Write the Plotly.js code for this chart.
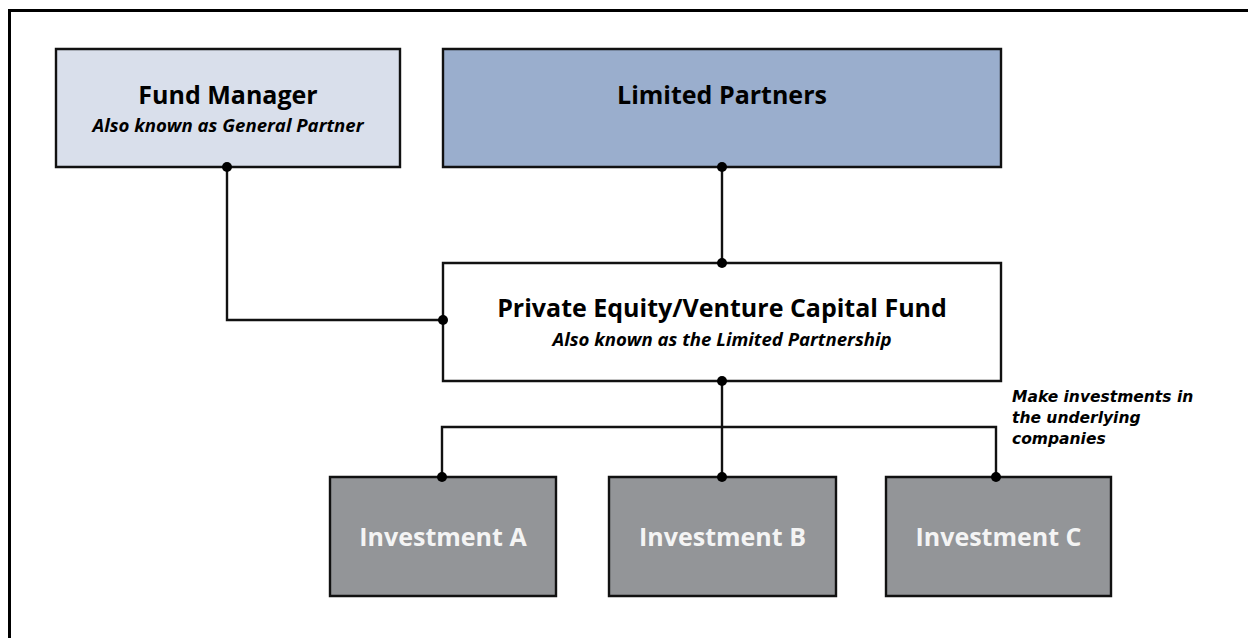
<!DOCTYPE html>
<html>
<head>
<meta charset="utf-8">
<script src="https://cdn.plot.ly/plotly-3.0.1.min.js"></script>
<style>html,body{margin:0;padding:0;background:#fff;overflow:hidden;}#chart{width:1248px;height:638px;}</style>
</head>
<body>
<div id="chart"></div>
<script>
// ---- content (data) ----
const nodeTitles = ["Fund Manager", "Limited Partners", "Private Equity/Venture Capital Fund", "Investment A", "Investment B", "Investment C"];
const nodeSubtitles = ["Also known as General Partner", "", "Also known as the Limited Partnership", "", "", ""];
const noteLines = ["Make investments in", "the underlying", "companies"];

// ---- layout geometry (positions & styles) ----
const boxX0 = [56, 443, 443, 330, 609, 886];
const boxX1 = [400, 1001, 1001, 556, 836, 1111];
const boxY0 = [49, 49, 263, 477, 477, 477];
const boxY1 = [167, 167, 381, 596, 596, 596];
const boxFill = ["#d9dfeb", "#9aaecd", "#ffffff", "#939598", "#939598", "#939598"];
const titleColor = ["#000", "#000", "#000", "#f4f4f4", "#f4f4f4", "#f4f4f4"];
const titleY = [97.5, 97.5, 311, 540, 540, 540];
const subY = [127, null, 341, null, null, null];
const noteY = [398, 419, 440];

const busY = 427;
const fmDropX = 227;
const peLeftY = 320;
const invDotX = [442, 722, 996];
const mainX = 722;

const shapes = [];
// outer frame: only its left and top edges fall inside the picture
shapes.push({type: "line", xref: "paper", yref: "paper", x0: 9.5 / 1248, x1: 9.5 / 1248, y0: -0.1, y1: 1 - 9 / 638,
  line: {color: "#000", width: 3}, layer: "below"});
shapes.push({type: "line", xref: "paper", yref: "paper", x0: 8 / 1248, x1: 1.1, y0: 1 - 10.5 / 638, y1: 1 - 10.5 / 638,
  line: {color: "#000", width: 3}, layer: "below"});
for (let i = 0; i < nodeTitles.length; i++) {
  shapes.push({type: "rect", xref: "x", yref: "y", x0: boxX0[i], x1: boxX1[i], y0: boxY0[i], y1: boxY1[i],
    line: {color: "#111", width: 2.4}, fillcolor: boxFill[i], layer: "below"});
}

const traces = [];
// connectors
const conn = [
  {x: [fmDropX, fmDropX, boxX0[2]], y: [boxY1[0], peLeftY, peLeftY]},
  {x: [mainX, mainX], y: [boxY1[1], boxY0[2]]},
  {x: [mainX, mainX], y: [boxY1[2], boxY0[4]]},
  {x: [invDotX[0], invDotX[0], invDotX[2], invDotX[2]], y: [boxY0[3], busY, busY, boxY0[5]]}
];
conn.forEach(c => traces.push({type: "scatter", mode: "lines", x: c.x, y: c.y,
  line: {color: "#111", width: 2.4}, hoverinfo: "skip", showlegend: false}));

// dots
traces.push({type: "scatter", mode: "markers",
  x: [fmDropX, mainX, mainX, boxX0[2], mainX, invDotX[0], invDotX[1], invDotX[2]],
  y: [boxY1[0], boxY1[1], boxY0[2], peLeftY, boxY1[2], boxY0[3], boxY0[4], boxY0[5]],
  marker: {color: "#000", size: 10}, hoverinfo: "skip", showlegend: false});

// titles
traces.push({type: "scatter", mode: "text",
  x: boxX0.map((v, i) => (v + boxX1[i]) / 2), y: titleY,
  text: nodeTitles.map(t => "<b>" + t + "</b>"),
  textposition: "middle center",
  textfont: {family: "Open Sans", size: 25, color: titleColor},
  hoverinfo: "skip", showlegend: false});

// subtitles
const subIdx = nodeSubtitles.map((s, i) => i).filter(i => nodeSubtitles[i]);
traces.push({type: "scatter", mode: "text",
  x: subIdx.map(i => (boxX0[i] + boxX1[i]) / 2), y: subIdx.map(i => subY[i]),
  text: subIdx.map(i => "<b><i>" + nodeSubtitles[i] + "</i></b>"),
  textposition: "middle center",
  textfont: {family: "Open Sans", size: 18.6, color: "#000"},
  hoverinfo: "skip", showlegend: false});

// note
traces.push({type: "scatter", mode: "text",
  x: noteLines.map(() => 1012), y: noteY,
  text: noteLines.map(t => "<b><i>" + t + "</i></b>"),
  textposition: "middle right",
  textfont: {family: "DejaVu Sans", size: 15.5, color: "#000"},
  hoverinfo: "skip", showlegend: false});

const layout = {
  width: 1248, height: 638,
  margin: {l: 0, r: 0, t: 0, b: 0},
  paper_bgcolor: "#fff", plot_bgcolor: "#fff",
  xaxis: {range: [0, 1248], visible: false, fixedrange: true},
  yaxis: {range: [638, 0], visible: false, fixedrange: true},
  shapes: shapes,
  showlegend: false
};

Plotly.newPlot("chart", traces, layout, {displayModeBar: false, staticPlot: true});
</script>
</body>
</html>
